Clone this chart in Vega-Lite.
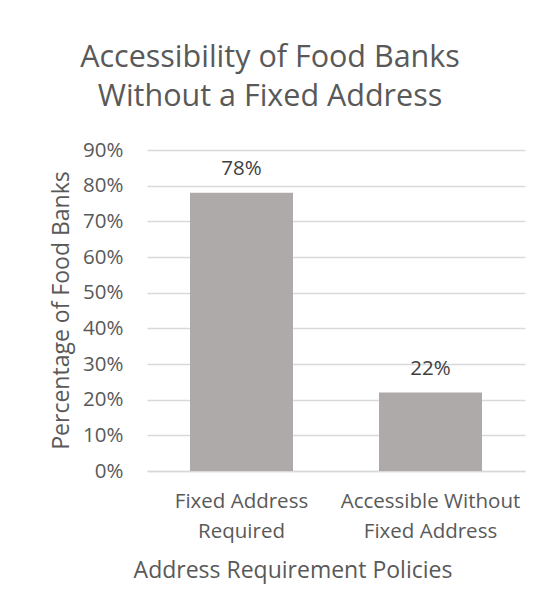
{
  "$schema": "https://vega.github.io/schema/vega-lite/v6.json",
  "width": 378,
  "height": 321,
  "autosize": {"type": "none"},
  "padding": {"left": 147, "top": 150, "right": 19, "bottom": 144},
  "background": "white",
  "title": {
    "text": ["Accessibility of Food Banks", "Without a Fixed Address"],
    "font": "Open Sans",
    "fontSize": 30.5,
    "fontWeight": "normal",
    "color": "#595959",
    "lineHeight": 39,
    "anchor": "middle",
    "frame": "group",
    "dx": -66,
    "offset": 28
  },
  "data": {
    "values": [
      {"policy": "Fixed Address Required", "pct": 0.78},
      {"policy": "Accessible Without Fixed Address", "pct": 0.22}
    ]
  },
  "encoding": {
    "x": {
      "field": "policy",
      "type": "nominal",
      "sort": null,
      "scale": {"paddingInner": 0.455, "paddingOuter": 0.2275},
      "axis": {
        "title": "Address Requirement Policies",
        "titleFont": "Open Sans",
        "titleFontSize": 23,
        "titleFontWeight": "normal",
        "titleColor": "#595959",
        "titleX": 145.5,
        "titleY": 106,
        "titleBaseline": "alphabetic",
        "labelAngle": 0,
        "labelFont": "Open Sans",
        "labelFontSize": 20.5,
        "labelColor": "#595959",
        "labelLineHeight": 30,
        "labelPadding": 20,
        "labelExpr": "datum.value == 'Fixed Address Required' ? ['Fixed Address', 'Required'] : ['Accessible Without', 'Fixed Address']",
        "ticks": false,
        "domain": true,
        "domainColor": "#d9d9d9",
        "domainWidth": 1.5,
        "grid": false
      }
    },
    "y": {
      "field": "pct",
      "type": "quantitative",
      "scale": {"domain": [0, 0.9], "nice": false},
      "axis": {
        "title": "Percentage of Food Banks",
        "titleFont": "Open Sans",
        "titleFontSize": 23,
        "titleFontWeight": "normal",
        "titleColor": "#595959",
        "titleX": -79,
        "titleY": 160,
        "titleBaseline": "alphabetic",
        "titleAlign": "center",
        "titleAngle": -90,
        "values": [0, 0.1, 0.2, 0.3, 0.4, 0.5, 0.6, 0.7, 0.8, 0.9],
        "format": ".0%",
        "labelFont": "Open Sans",
        "labelFontSize": 20.5,
        "labelColor": "#595959",
        "labelPadding": 24,
        "ticks": false,
        "domain": false,
        "grid": true,
        "gridColor": "#d9d9d9",
        "gridWidth": 1.5
      }
    }
  },
  "layer": [
    {
      "mark": {"type": "bar", "color": "#aeaaaa"}
    },
    {
      "mark": {
        "type": "text",
        "font": "Open Sans",
        "fontSize": 20.5,
        "color": "#404040",
        "baseline": "alphabetic",
        "dy": -18
      },
      "encoding": {
        "text": {"field": "pct", "type": "quantitative", "format": ".0%"}
      }
    }
  ],
  "config": {
    "view": {"stroke": null}
  }
}
